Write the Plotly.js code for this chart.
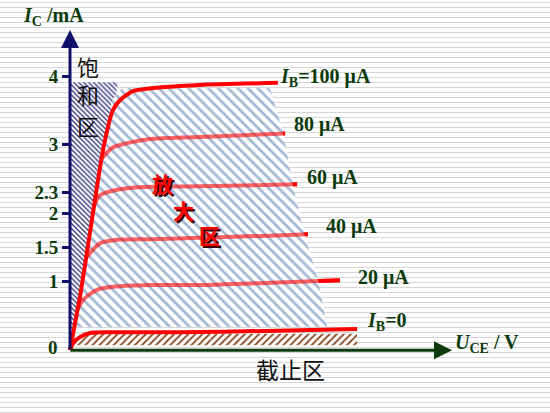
<!DOCTYPE html>
<html>
<head>
<meta charset="utf-8">
<script src="https://cdn.plot.ly/plotly-3.0.1.min.js"></script>
<style>
  html, body { margin: 0; padding: 0; }
  body {
    background: repeating-linear-gradient(to bottom, #fff 0px, #fff 2px, #d6d6d6 2px, #d6d6d6 3px, #fff 3px, #fff 5px);
  }
  #chart { width: 550px; height: 413px; }
</style>
</head>
<body>
<div id="chart"></div>
<script>
// output curves of the transistor, UCE in V (arbitrary scale), IC in mA
const ib100U = [0, 0.37, 0.73, 1.1, 1.43, 1.67, 2.1, 2.67, 4.33, 6.93];
const ib100I = [0, 0.88, 1.9, 2.92, 3.5, 3.65, 3.78, 3.82, 3.87, 3.9];
const ib80U = [1.07, 1.4, 1.9, 2.67, 4.33, 7.17];
const ib80I = [2.8, 2.95, 3.02, 3.08, 3.11, 3.16];
const ib60U = [0.82, 1.0, 1.57, 2.43, 4.33, 7.57];
const ib60I = [2.12, 2.26, 2.34, 2.38, 2.39, 2.42];
const ib40U = [0.53, 1.0, 1.57, 2.67, 4.33, 6.67, 7.93];
const ib40I = [1.34, 1.56, 1.61, 1.62, 1.64, 1.67, 1.69];
const ib20U = [0.24, 0.43, 0.9, 1.57, 2.67, 4.33, 6.5, 9.0];
const ib20I = [0.58, 0.73, 0.88, 0.93, 0.95, 0.95, 0.98, 1.02];
const ib0U = [0, 0.1, 0.33, 0.67, 1.33, 3.67, 6.5, 9.57];
const ib0I = [0, 0.1, 0.19, 0.25, 0.26, 0.26, 0.28, 0.31];

// regions
const satU = [0, 1.6, 0];
const satI = [3.91, 3.91, 0];
const ampU = [0.1, 1.4, 1.73, 6.67, 7.1, 7.43, 7.8, 8.27, 8.57, 0.1];
const ampI = [0.34, 3.65, 3.82, 3.82, 3.18, 2.41, 1.71, 1.02, 0.34, 0.34];
const cutU = [0.1, 9.57, 9.57, 0.4];
const cutI = [0.07, 0.07, 0.24, 0.24];

const yTicks = [1, 1.5, 2, 2.3, 3, 4];
const lightU = [ib80U, ib60U, ib40U, ib20U];
const lightI = [ib80I, ib60I, ib40I, ib20I];
const curveLabels = ['<i>I</i><sub>B</sub>=100 μA', '80 μA', '60 μA', '40 μA', '20 μA', '<i>I</i><sub>B</sub>=0'];

const SERIF = '"Liberation Serif", "Times New Roman", serif';
const CJK = '"Noto Sans CJK SC", sans-serif';
const GREEN = '#0b3b0b';
const RED = '#ff0000';

// pixel -> data / paper helpers for placing axes and text
const ux = px => (px - 70) / 30;
const uy = py => (350 - py) / 68.5;
const pxp = px => (px - 61) / 391;
const pyp = py => (356.85 - py) / 326.85;

const traces = [];
lightU.forEach((u, i) => traces.push({
  x: u, y: lightI[i], mode: 'lines', line: { color: RED, width: 4, shape: 'spline', smoothing: 0.8 },
}));
traces.push({
  x: satU, y: satI, mode: 'lines', fill: 'toself', line: { width: 0 },
  fillcolor: '#ffffff',
  fillpattern: { shape: '\\', fgcolor: '#2a2a78', bgcolor: '#ffffff', size: 3.5, solidity: 0.35 },
});
traces.push({
  x: ampU, y: ampI, mode: 'lines', fill: 'toself', line: { width: 0 },
  fillcolor: '#ffffff',
  fillpattern: { shape: '\\', fgcolor: '#a3b7d3', bgcolor: '#ffffff', size: 7, solidity: 0.4 },
});
traces.push({
  x: cutU, y: cutI, mode: 'lines', fill: 'toself', line: { width: 0 },
  fillcolor: '#ffffff',
  fillpattern: { shape: '/', fgcolor: '#8a4a20', bgcolor: '#ffffff', size: 5, solidity: 0.35 },
});
lightU.forEach((u, i) => traces.push({
  x: u, y: lightI[i], mode: 'lines', opacity: 0.6,
  line: { color: RED, width: 4, shape: 'spline', smoothing: 0.8 },
}));
traces.push({ x: ib100U, y: ib100I, mode: 'lines', line: { color: RED, width: 4, shape: 'spline', smoothing: 0.6 } });
traces.push({ x: ib0U, y: ib0I, mode: 'lines', line: { color: RED, width: 4, shape: 'spline', smoothing: 0.6 } });

const txt = (text, px, py, opts = {}) => Object.assign({
  text, x: pxp(px), y: pyp(py), xref: 'paper', yref: 'paper', showarrow: false,
  xanchor: 'left', yanchor: 'middle',
  font: { family: SERIF, size: 20, color: GREEN, weight: 'bold' },
}, opts);

const labelPos = [[278, 77], [292, 124], [305, 177], [324, 226], [356, 277], [365, 321]];
const annotations = curveLabels.map((t, i) => txt(t, labelPos[i][0], labelPos[i][1]));

annotations.push(txt('<i>U</i><sub>CE</sub> / V', 453, 343));
annotations.push(txt('<i>I</i><sub>C</sub> /mA', 21, 17, { font: { family: SERIF, size: 20, color: GREEN, weight: 'bold' } }));
annotations.push(txt('0', 53, 347, { xanchor: 'center', font: { family: SERIF, size: 19, color: GREEN, weight: 'bold' } }));

// chinese region names
[['饱', 66], ['和', 94], ['区', 125]].forEach(([c, py]) =>
  annotations.push(txt(c, 88, py, { xanchor: 'center', font: { family: CJK, size: 22, color: '#111' } })));
annotations.push(txt('截止区', 290, 369, { xanchor: 'center', font: { family: CJK, size: 23, color: '#111' } }));
[['放', 162, 183], ['大', 183, 210], ['区', 209, 235]].forEach(([c, px, py]) => {
  annotations.push(txt(c, px, py, { xanchor: 'center', xshift: 2, yshift: -2,
    font: { family: CJK, size: 21, color: '#3a0000', weight: 'bold' } }));
  annotations.push(txt(c, px, py, { xanchor: 'center',
    font: { family: CJK, size: 21, color: RED, weight: 'bold' } }));
});

// axes with arrow heads
annotations.push({
  text: ' ', x: ux(70), y: uy(30), ax: ux(70), ay: uy(351), xref: 'x', yref: 'y', axref: 'x', ayref: 'y',
  showarrow: true, arrowhead: 2, arrowsize: 1.2, arrowwidth: 3, arrowcolor: '#10106a', standoff: 0, startstandoff: 0,
  font: { size: 1 },
});
annotations.push({
  text: ' ', x: ux(452), y: uy(350), ax: ux(69), ay: uy(350), xref: 'x', yref: 'y', axref: 'x', ayref: 'y',
  showarrow: true, arrowhead: 2, arrowsize: 1.2, arrowwidth: 3, arrowcolor: '#0b3b0b', standoff: 0, startstandoff: 0,
  font: { size: 1 },
});

const layout = {
  width: 550, height: 413,
  margin: { l: 61, r: 98, t: 30, b: 56.15, pad: 0 },
  paper_bgcolor: 'rgba(0,0,0,0)', plot_bgcolor: 'rgba(0,0,0,0)',
  showlegend: false, hovermode: false,
  xaxis: { range: [-0.3, 12.733], visible: false },
  yaxis: {
    range: [-0.1, 4.6715], anchor: 'free', position: 0.3 / 13.033,
    showgrid: false, zeroline: false, showline: false,
    ticks: 'outside', ticklen: 8, tickwidth: 3, tickcolor: '#10106a',
    tickvals: yTicks, ticktext: yTicks.map(String),
    tickfont: { family: SERIF, size: 19, color: GREEN, weight: 'bold' },
  },
  annotations,
};

Plotly.newPlot('chart', traces, layout, { displayModeBar: false, staticPlot: true });
</script>
</body>
</html>
